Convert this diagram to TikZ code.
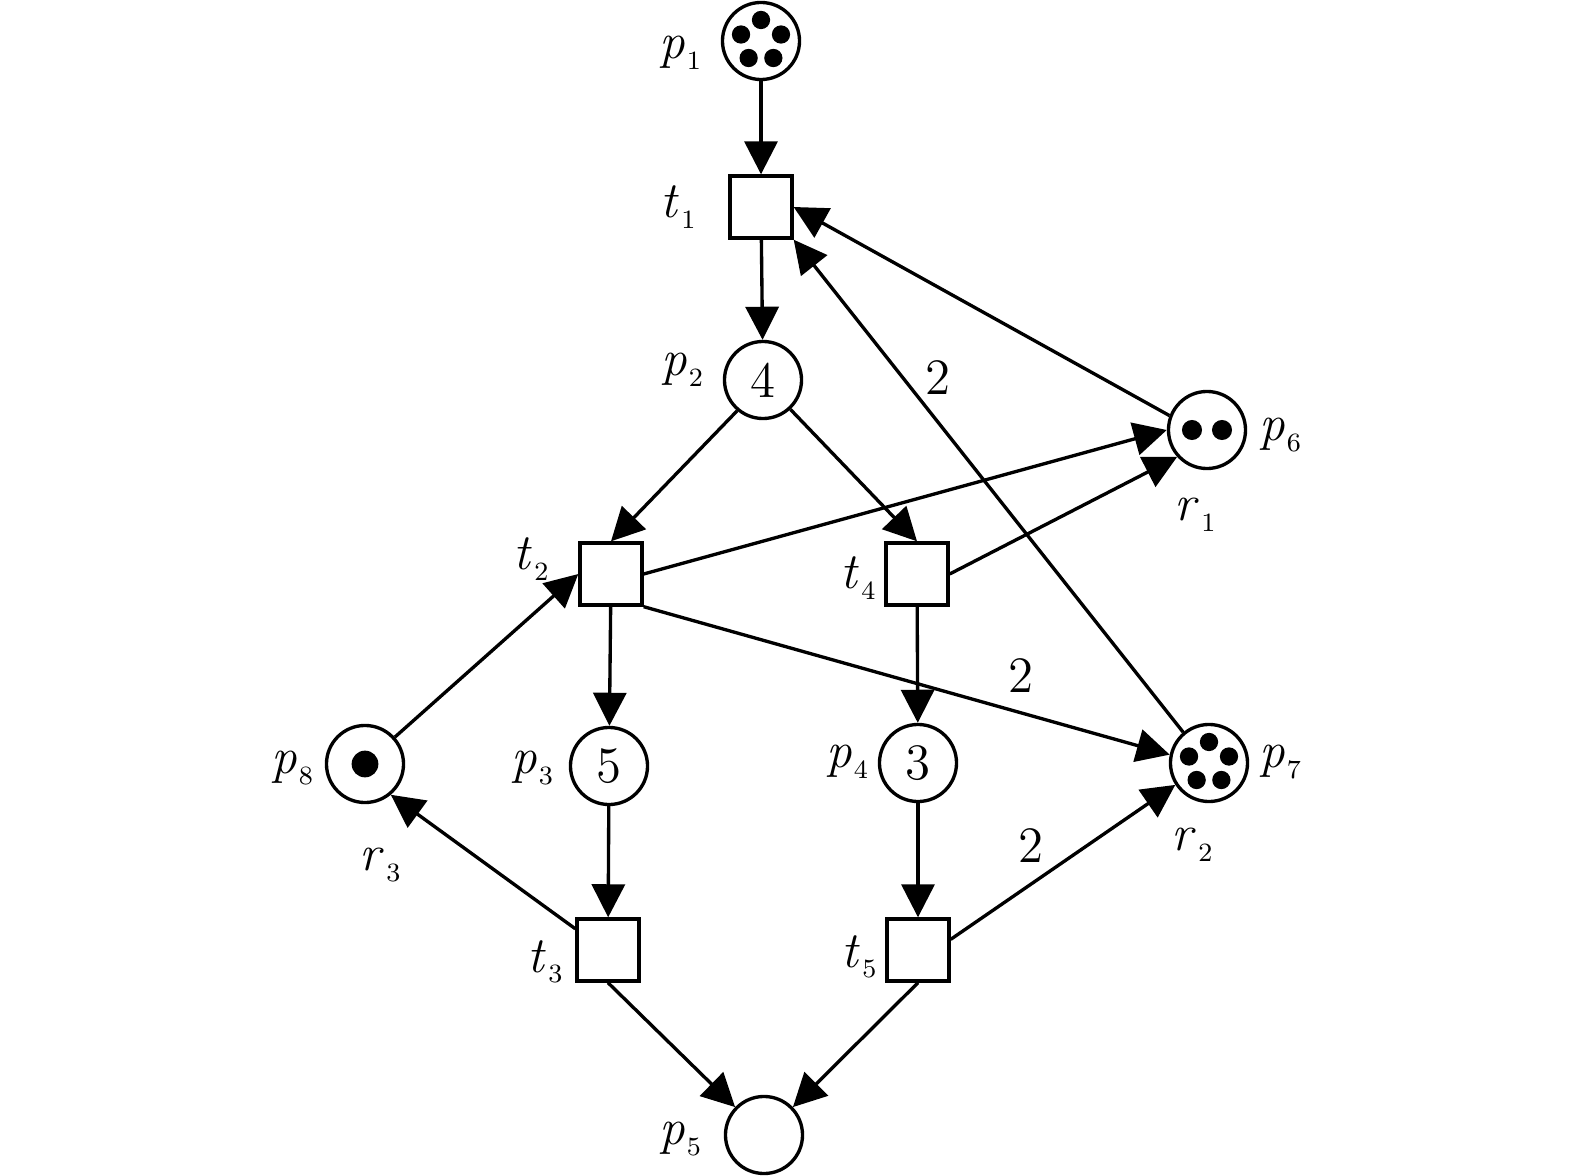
\documentclass[tikz,border=0pt]{standalone}
\usetikzlibrary{arrows.meta}
\newcommand{\nm}[2]{\textit{#1}\kern0.6pt\raisebox{-3pt}{\fontsize{7.5}{8}\selectfont #2}}

\begin{document}
\begin{tikzpicture}[x=0.01cm,y=-0.01cm,line width=0.95pt]\tikzstyle{every node} = [font=\fontsize{14.5}{17}\selectfont]
    \tikzstyle{place} = [draw,circle,minimum size=0.77cm,inner sep=0pt]
    \tikzstyle{trans} = [draw,rectangle,minimum size=0.62cm,inner sep=0pt]
    \tikzstyle{lbl} = [inner sep=0pt]
    \tikzstyle{arr} = [-{Triangle[length=9.4pt,width=9.4pt]}]
    \useasboundingbox (0,0) rectangle (1575,1176);

    \node[place] (p1) at (761,41) {};
    \node[trans] (t1) at (761,207) {};
    \node[place] (p2) at (763,380) {4};
    \node[place] (p6) at (1207,430) {};
    \node[trans] (t2) at (611,574) {};
    \node[trans] (t4) at (917,574) {};
    \node[place] (p8) at (365,764) {};
    \node[place] (p3) at (609,766) {5};
    \node[place] (p4) at (918,763) {3};
    \node[place] (p7) at (1209,763) {};
    \node[trans] (t3) at (608,950) {};
    \node[trans] (t5) at (918,950) {};
    \node[place] (p5) at (764,1135) {};

    \foreach \a in {90,162,234,306,378} {
      \fill (p1) ++(\a:0.21cm) circle (2.6pt);
      \fill (p7) ++(\a:0.21cm) circle (2.6pt);
    }
    \fill (p6) ++(-0.15cm,0) circle (2.85pt);
    \fill (p6) ++(0.15cm,0) circle (2.85pt);
    \fill (p8) circle (3.8pt);

    \node[lbl] (lp1) at (680,53) {\nm{p}{1}};
    \node[lbl] (lt1) at (678,207) {\nm{t}{1}};
    \node[lbl] (lp2) at (682,370) {\nm{p}{2}};
    \node[lbl] (lp6) at (1280,435) {\nm{p}{6}};
    \node[lbl] (lr1) at (1195,515) {\nm{r}{1}};
    \node[lbl] (lt2) at (531,559) {\nm{t}{2}};
    \node[lbl] (lt4) at (858,578) {\nm{t}{4}};
    \node[lbl] (lp8) at (292,768) {\nm{p}{8}};
    \node[lbl] (lp3) at (532,768) {\nm{p}{3}};
    \node[lbl] (lp4) at (847,762) {\nm{p}{4}};
    \node[lbl] (lp7) at (1280,762) {\nm{p}{7}};
    \node[lbl] (lr3) at (380,865) {\nm{r}{3}};
    \node[lbl] (lr2) at (1192,845) {\nm{r}{2}};
    \node[lbl] (lt3) at (545,962) {\nm{t}{3}};
    \node[lbl] (lt5) at (859,957) {\nm{t}{5}};
    \node[lbl] (lp5) at (680,1139) {\nm{p}{5}};

    \node[lbl] (w1) at (938,378) {2};
    \node[lbl] (w2) at (1021,676) {2};
    \node[lbl] (w3) at (1031,846) {2};

    \draw[arr] (p1) -- (t1);
    \draw[arr] (t1) -- (p2);
    \draw[arr] (p6.159) -- (t1.east);
    \draw[arr] (p7.130) -- (t1.south east);
    \draw[arr] (p2.230) -- (t2.north);
    \draw[arr] (p2.313) -- (t4.north);
    \draw[arr] (t2.east) -- (p6.west);
    \draw[arr] (t4.east) -- (p6.222);
    \draw[arr] (t2.south east) -- (p7.168);
    \draw[arr] (t2) -- (p3);
    \draw[arr] (t4) -- (p4);
    \draw[arr] (p8.42) -- (t2.west);
    \draw[arr] (p3) -- (t3);
    \draw[arr] (p4) -- (t5);
    \draw[arr] (t3.147) -- (p8.310);
    \draw[arr] (t5.18) -- (p7.213);
    \draw[arr] (t3.south) -- (p5.136);
    \draw[arr] (t5.south) -- (p5.44);
  \end{tikzpicture}
\end{document}
